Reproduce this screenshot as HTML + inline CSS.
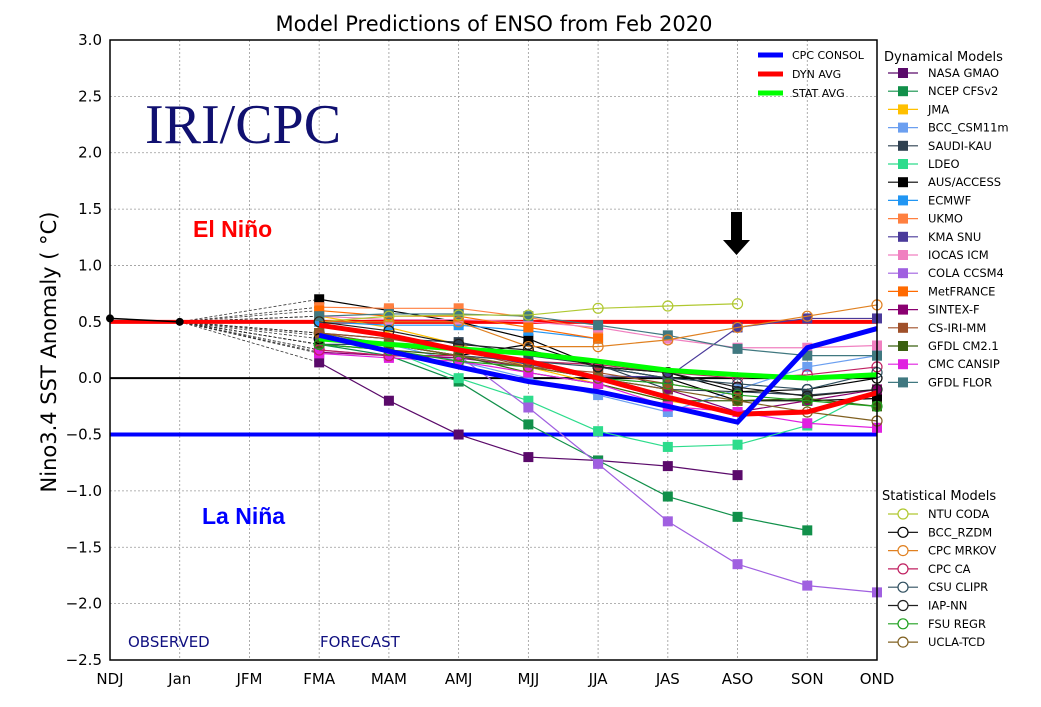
<!DOCTYPE html>
<html><head><meta charset="utf-8"><style>
body{margin:0;background:#fff;}
svg{display:block;font-family:"DejaVu Sans","Liberation Sans",sans-serif;}
</style></head><body>
<svg id="c" width="1041" height="707"></svg>
<script>
const categories=["NDJ","Jan","JFM","FMA","MAM","AMJ","MJJ","JJA","JAS","ASO","SON","OND"];
const yTicks=[3.0,2.5,2.0,1.5,1.0,0.5,0.0,-0.5,-1.0,-1.5,-2.0,-2.5];
const observed=[0.53,0.5];
const dynNames=["NASA GMAO","NCEP CFSv2","JMA","BCC_CSM11m","SAUDI-KAU","LDEO","AUS/ACCESS","ECMWF","UKMO","KMA SNU","IOCAS ICM","COLA CCSM4","MetFRANCE","SINTEX-F","CS-IRI-MM","GFDL CM2.1","CMC CANSIP","GFDL FLOR"];
const dynColors=["#5a0a6a","#11904a","#ffc000","#6b9ff0","#2e4050","#2ddc8c","#000000","#2196f3","#ff8040","#4a3a9a","#f080c0","#a060e0","#ff6a00","#8a0070","#a0502a","#3a6010","#e020e0","#407880"];
const dynValues=[
[0.14,-0.2,-0.5,-0.7,-0.73,-0.78,-0.86],
[0.3,0.2,-0.03,-0.41,-0.73,-1.05,-1.23,-1.35],
[0.55,0.45,0.3,0.1,-0.05,-0.2,-0.3],
[0.4,0.3,0.15,0.0,-0.15,-0.3,-0.1,0.1,0.2],
[0.4,0.35,0.32,0.2,0.12,-0.1,-0.12,-0.15,-0.1],
[0.3,0.25,0.0,-0.2,-0.47,-0.61,-0.59,-0.42,-0.1],
[0.7,0.6,0.5,0.35,0.1,0.0,-0.2,-0.2,-0.18],
[0.5,0.47,0.47,0.42,0.35],
[0.63,0.62,0.62,0.54,0.43],
[0.38,0.3,0.25,0.12,0.02,0.01,0.45,0.53,0.53],
[0.55,0.52,0.52,0.5,0.45,0.35,0.27,0.27,0.29],
[0.25,0.2,0.2,-0.26,-0.76,-1.27,-1.65,-1.84,-1.9],
[0.6,0.55,0.55,0.45,0.35],
[0.23,0.2,0.18,0.1,0.0,-0.1,-0.3,-0.2,-0.1],
[0.4,0.35,0.25,0.1,0.05,-0.05,-0.15],
[0.3,0.25,0.2,0.05,-0.05,-0.2,-0.2,-0.18,-0.25],
[0.22,0.18,0.15,0.05,-0.05,-0.25,-0.3,-0.4,-0.44],
[0.55,0.57,0.57,0.55,0.47,0.38,0.26,0.2,0.2]];
const statNames=["NTU CODA","BCC_RZDM","CPC MRKOV","CPC CA","CSU CLIPR","IAP-NN","FSU REGR","UCLA-TCD"];
const statColors=["#b0c830","#000000","#e08020","#c02060","#305060","#202020","#20a020","#806020"];
const statValues=[
[0.5,0.55,0.56,0.56,0.62,0.64,0.66],
[0.35,0.3,0.2,0.3,0.1,0.05,-0.12,-0.1,0.0],
[0.5,0.5,0.5,0.28,0.28,0.34,0.45,0.55,0.65],
[0.25,0.2,0.2,0.15,0.12,0.05,0.0,0.03,0.1],
[0.3,0.3,0.2,0.15,0.1,0.0,-0.05,-0.1,0.05],
[0.5,0.42,0.3,0.25,0.1,0.05,-0.08,-0.16,-0.1],
[0.3,0.25,0.15,0.1,0.0,-0.05,-0.15,-0.2,-0.25],
[0.4,0.3,0.2,0.1,0.0,-0.1,-0.2,-0.3,-0.38]];
const cpcConsol=[0.38,0.24,0.1,-0.03,-0.12,-0.25,-0.39,0.27,0.44];
const dynAvg=[0.47,0.38,0.25,0.15,0.0,-0.17,-0.32,-0.3,-0.13];
const statAvg=[0.35,0.3,0.26,0.22,0.15,0.07,0.03,0.0,0.03];
const refLines=[0.5,0.0,-0.5];

const NS="http://www.w3.org/2000/svg";
const svg=document.getElementById('c');
const L=110,R=877,T=40,B=660,X0=3;
function x(i){return L+i*(R-L)/(categories.length-1);}
function y(v){return T+(3.0-v)*(B-T)/5.5;}
function el(tag,at,parent){const e=document.createElementNS(NS,tag);for(const k in at)e.setAttribute(k,at[k]);(parent||svg).appendChild(e);return e;}
function txt(s,at){const e=el('text',at);e.textContent=s;return e;}

// grid
yTicks.forEach(v=>{
 const g=el('line',{x1:L,x2:R,y1:y(v),y2:y(v),stroke:'#999','stroke-dasharray':'2,2','stroke-width':0.8});
 
 
 const t=txt(v.toFixed(1).replace('-','\u2212'),{x:L-8,y:y(v)+5,'text-anchor':'end','font-size':15});
 
 
});
categories.forEach((c,i)=>{
 const g=el('line',{x1:x(i),x2:x(i),y1:T,y2:B,stroke:'#999','stroke-dasharray':'2,2','stroke-width':0.8});
 
 
 const t=txt(c,{x:x(i),y:B+24,'text-anchor':'middle','font-size':15});
 
 
});
// dashed fan from Jan
function fan(vals){const l=el('line',{x1:x(1),y1:y(0.5),x2:x(X0),y2:y(vals[0]),stroke:'#333','stroke-width':0.8,'stroke-dasharray':'3,2'});
 
 }
dynValues.forEach(fan);statValues.forEach(fan);
function pts(vals){return vals.map((v,i)=>x(X0+i)+','+y(v)).join(' ');}
// reference lines
const refCol=['#ff0000','#000000','#0000ff'];
refLines.forEach((v,i)=>{const l=el('line',{x1:L,x2:R,y1:y(v),y2:y(v),stroke:refCol[i],'stroke-width':i==1?2:4});
 
 });
// dynamical
dynValues.forEach((vals,k)=>{
 const g=el('g',{});
 
 
 el('polyline',{points:pts(vals),fill:'none',stroke:dynColors[k],'stroke-width':1.2},g);
 vals.forEach((v,i)=>{const r=el('rect',{x:x(X0+i)-5,y:y(v)-5,width:10,height:10,fill:dynColors[k]},g);
  
  });
});
statValues.forEach((vals,k)=>{
 const g=el('g',{});
 
 
 el('polyline',{points:pts(vals),fill:'none',stroke:statColors[k],'stroke-width':1.2},g);
 vals.forEach((v,i)=>{const c=el('circle',{cx:x(X0+i),cy:y(v),r:5,fill:'none',stroke:statColors[k],'stroke-width':1.2},g);
  
  });
});
// observed
const ob=el('polyline',{points:observed.map((v,i)=>x(i)+','+y(v)).join(' '),fill:'none',stroke:'#000','stroke-width':1.5});


observed.forEach((v,i)=>{const c=el('circle',{cx:x(i),cy:y(v),r:4,fill:'#000'});
 
 });
// averages
[[statAvg,'#00ff00','stat-avg-line'],[dynAvg,'#ff0000','dyn-avg-line'],[cpcConsol,'#0000ff','cpc-consol-line']].forEach(([v,c,n])=>{
 const l=el('polyline',{points:pts(v),fill:'none',stroke:c,'stroke-width':5,'stroke-linejoin':'miter'});
 
 
});
// frame
const fr=el('rect',{x:L,y:T,width:R-L,height:B-T,fill:'none',stroke:'#000','stroke-width':1.5});


// arrow
const ar=el('path',{d:'M731,212 h11 v28 h8 l-13.5,15 l-13.5,-15 h8 z',fill:'#000'});


// avg legend
[['CPC CONSOL','#0000ff',55],['DYN AVG','#ff0000',74],['STAT AVG','#00ff00',93]].forEach(([n,c,yy])=>{
 const l=el('line',{x1:758,x2:783,y1:yy,y2:yy,stroke:c,'stroke-width':5});
 
 
 const t=txt(n,{x:792,y:yy+4,'font-size':11});
 
 
});
// side legends
let t=txt('Dynamical Models',{x:884,y:61,'font-size':13});


dynNames.forEach((n,k)=>{const yy=73+k*18.2;
 const l=el('line',{x1:888,x2:918,y1:yy,y2:yy,stroke:dynColors[k],'stroke-width':1.2});
 
 
 const r=el('rect',{x:898,y:yy-5,width:10,height:10,fill:dynColors[k]});
 
 
 const s=txt(n,{x:928,y:yy+4,'font-size':11.5});
 
 });
t=txt('Statistical Models',{x:882,y:500,'font-size':13});


statNames.forEach((n,k)=>{const yy=514+k*18.3;
 const l=el('line',{x1:888,x2:918,y1:yy,y2:yy,stroke:statColors[k],'stroke-width':1.2});
 
 
 const c=el('circle',{cx:903,cy:yy,r:5,fill:'#fff',stroke:statColors[k],'stroke-width':1.2});
 
 
 const s=txt(n,{x:928,y:yy+4,'font-size':11.5});
 
 });
// texts
t=txt('Model Predictions of ENSO from Feb 2020',{x:494,y:31,'text-anchor':'middle','font-size':21});


t=txt('Nino3.4 SST Anomaly ( \u00B0C)',{x:0,y:0,'text-anchor':'middle','font-size':21,transform:'translate(56,352) rotate(-90)'});


t=txt('IRI/CPC',{x:145,y:143,'font-size':56,fill:'#101070','font-family':'Liberation Serif,serif'});


t=txt('El Niño',{x:193,y:237,'font-size':23,'font-weight':'bold',fill:'#ff0000','font-family':'Liberation Sans,sans-serif'});


t=txt('La Niña',{x:202,y:524,'font-size':23,'font-weight':'bold',fill:'#0000ff','font-family':'Liberation Sans,sans-serif'});


t=txt('OBSERVED',{x:128,y:647,'font-size':15,fill:'#101080'});


t=txt('FORECAST',{x:320,y:647,'font-size':15,fill:'#101080'});


</script>
</body></html>
